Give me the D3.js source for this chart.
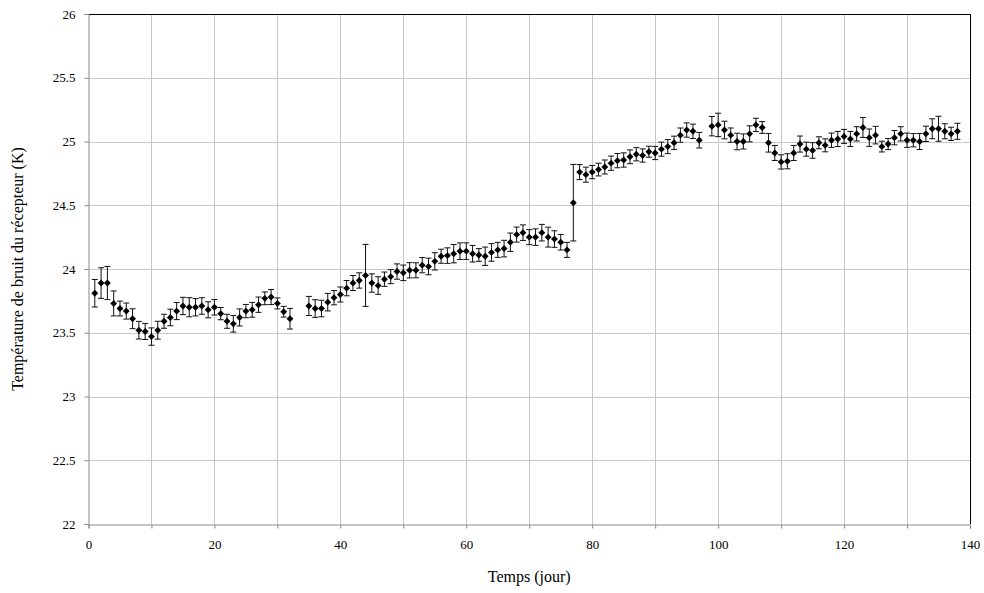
<!DOCTYPE html>
<html><head><meta charset="utf-8">
<script src="https://cdn.jsdelivr.net/npm/d3@7"></script>
<style>body{margin:0;background:#fff}svg{display:block}svg text{font-family:'Liberation Serif','Times New Roman',serif}</style>
</head><body><svg id="c" width="984" height="593"></svg>
<script>
const days = [1,2,3,4,5,6,7,8,9,10,11,12,13,14,15,16,17,18,19,20,21,22,23,24,25,26,27,28,29,30,31,32,
35,36,37,38,39,40,41,42,43,44,45,46,47,48,49,50,51,52,53,54,55,56,57,58,59,60,61,62,63,64,65,66,67,68,69,70,
71,72,73,74,75,76,77,78,79,80,81,82,83,84,85,86,87,88,89,90,91,92,93,94,95,96,97,
99,100,101,102,103,104,105,106,107,108,109,110,111,112,113,114,115,116,117,118,119,120,121,122,123,124,125,126,127,128,129,130,131,132,133,134,135,136,137,138];
const temps = [23.81,23.89,23.89,23.73,23.69,23.67,23.61,23.52,23.51,23.47,23.52,23.59,23.62,23.67,23.71,23.70,23.70,23.71,23.68,23.70,23.65,23.59,23.57,23.62,23.67,23.68,23.72,23.77,23.78,23.73,23.665,23.61,
23.71,23.69,23.69,23.74,23.775,23.80,23.85,23.89,23.91,23.95,23.89,23.87,23.92,23.94,23.98,23.97,23.99,23.99,24.03,24.02,24.06,24.10,24.105,24.12,24.14,24.14,24.12,24.11,24.10,24.13,24.15,24.16,24.21,24.27,24.285,24.25,
24.25,24.285,24.25,24.235,24.21,24.15,24.52,24.76,24.74,24.76,24.78,24.80,24.83,24.85,24.855,24.88,24.90,24.89,24.92,24.91,24.94,24.96,24.99,25.05,25.09,25.08,25.01,
25.12,25.13,25.09,25.05,25.00,25.00,25.06,25.13,25.11,24.99,24.91,24.84,24.845,24.91,24.98,24.94,24.93,24.99,24.97,25.01,25.02,25.04,25.02,25.06,25.11,25.03,25.05,24.96,24.98,25.03,25.06,25.01,25.01,25.00,25.06,25.10,25.10,25.08,25.06,25.08];
const errs = [0.108,0.12,0.13,0.098,0.058,0.063,0.078,0.069,0.063,0.068,0.07,0.055,0.065,0.067,0.068,0.075,0.068,0.065,0.063,0.061,0.048,0.055,0.065,0.067,0.052,0.058,0.06,0.05,0.059,0.043,0.042,0.081,
0.075,0.069,0.065,0.069,0.056,0.059,0.06,0.059,0.06,0.243,0.072,0.069,0.056,0.055,0.06,0.061,0.06,0.059,0.06,0.065,0.068,0.055,0.061,0.072,0.065,0.065,0.065,0.05,0.072,0.069,0.059,0.065,0.072,0.059,0.061,0.059,
0.065,0.065,0.078,0.065,0.061,0.059,0.30,0.059,0.059,0.052,0.05,0.055,0.056,0.056,0.056,0.054,0.052,0.052,0.043,0.052,0.055,0.055,0.052,0.056,0.056,0.056,0.061,
0.076,0.092,0.069,0.056,0.065,0.059,0.063,0.052,0.046,0.073,0.059,0.056,0.059,0.059,0.063,0.055,0.061,0.047,0.051,0.056,0.059,0.055,0.059,0.056,0.078,0.068,0.069,0.042,0.044,0.056,0.056,0.056,0.052,0.063,0.06,0.078,0.098,0.059,0.052,0.063];
const xTicks = [0,20,40,60,80,100,120,140];
const xGrid = [0,10,20,30,40,50,60,70,80,90,100,110,120,130,140];
const yTicks = [22,22.5,23,23.5,24,24.5,25,25.5,26];
const xTitle = "Temps (jour)";
const yTitle = "Température de bruit du récepteur (K)";

const svg = d3.select("#c");
const L=88.5, R=970, T=14, B=524;
const x = d3.scaleLinear().domain([0,140]).range([L,R]);
const y = d3.scaleLinear().domain([22,26]).range([B,T]);
const font = "'Liberation Serif','Times New Roman',serif";

// grid
svg.append("g").selectAll("line.v").data(xGrid.slice(1,-1)).join("line")
  .attr("x1",d=>Math.round(x(d))+0.5).attr("x2",d=>Math.round(x(d))+0.5)
  .attr("y1",T).attr("y2",B).attr("stroke","#c8c8c8").attr("stroke-width",1);
svg.append("g").selectAll("line.h").data(yTicks.slice(1,-1)).join("line")
  .attr("y1",d=>Math.round(y(d))+0.5).attr("y2",d=>Math.round(y(d))+0.5)
  .attr("x1",L).attr("x2",R).attr("stroke","#c8c8c8").attr("stroke-width",1);
// top and right borders
svg.append("line").attr("x1",L).attr("x2",R).attr("y1",T+0.5).attr("y2",T+0.5).attr("stroke","#000");
svg.append("line").attr("x1",R+0.5).attr("x2",R+0.5).attr("y1",T).attr("y2",B).attr("stroke","#000");

// axes
const xAxis = svg.append("g").attr("transform",`translate(0,${B+0.5})`)
  .call(d3.axisBottom(x).tickValues(xGrid).tickSize(4).tickFormat(d=>xTicks.includes(d)?d:""));
xAxis.attr("font-family",font);
xAxis.select(".domain").attr("stroke","#888");
xAxis.selectAll(".tick line").attr("stroke","#888");
xAxis.selectAll("text").style("font-family",font).attr("font-size",13).attr("fill","#000").attr("dy","1.35em");
const yAxis = svg.append("g").attr("transform",`translate(${L},0)`)
  .call(d3.axisLeft(y).tickValues(yTicks).tickSize(4).tickFormat(d=>d));
yAxis.attr("font-family",font);
yAxis.select(".domain").attr("stroke","#888");
yAxis.selectAll(".tick line").attr("stroke","#888");
yAxis.selectAll("text").style("font-family",font).attr("font-size",13).attr("fill","#000").attr("x",-13);

// titles
svg.append("text").attr("x",(L+R)/2).attr("y",582).attr("text-anchor","middle")
  .style("font-family",font).attr("font-size",16).text(xTitle);
svg.append("text").attr("transform",`translate(23,${(T+B)/2}) rotate(-90)`).attr("text-anchor","middle")
  .style("font-family",font).attr("font-size",16).text(yTitle);

// data
const data = days.map((d,i)=>({d, v:temps[i], e:errs[i]}));
const g = svg.append("g");
const eb = g.selectAll("g.eb").data(data).join("g").attr("stroke","#111").attr("stroke-width",1);
eb.append("line").attr("x1",p=>x(p.d)).attr("x2",p=>x(p.d)).attr("y1",p=>y(p.v-p.e)).attr("y2",p=>y(p.v+p.e));
eb.append("line").attr("x1",p=>x(p.d)-3).attr("x2",p=>x(p.d)+3).attr("y1",p=>y(p.v-p.e)).attr("y2",p=>y(p.v-p.e));
eb.append("line").attr("x1",p=>x(p.d)-3).attr("x2",p=>x(p.d)+3).attr("y1",p=>y(p.v+p.e)).attr("y2",p=>y(p.v+p.e));
g.selectAll("path.m").data(data).join("path")
  .attr("d",d3.symbol(d3.symbolDiamond2,30)())
  .attr("transform",p=>`translate(${x(p.d)},${y(p.v)})`).attr("fill","#000");
</script></body></html>
